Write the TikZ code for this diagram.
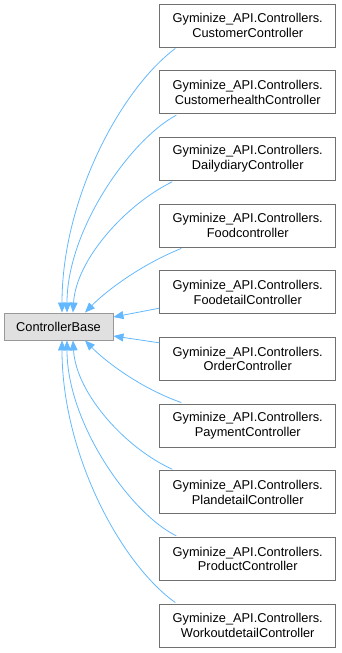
\documentclass[tikz,border=0pt]{standalone}
\usepackage{fontspec}
\setmainfont{Liberation Sans}
\usetikzlibrary{arrows.meta,calc}
\definecolor{edgeblue}{RGB}{99,184,255}
\definecolor{boxline}{RGB}{112,112,112}
\definecolor{baseline}{RGB}{153,153,153}
\definecolor{basefill}{RGB}{224,224,224}
\tikzset{
  cls/.style={draw=boxline, fill=white, line width=0.9pt, minimum width=176pt, minimum height=43pt,
    inner sep=0pt, align=center, font=\fontsize{12.8}{14.5}\selectfont},
  basecls/.style={draw=baseline, fill=basefill, line width=0.9pt, minimum width=109pt, minimum height=27pt,
    inner sep=0pt, font=\fontsize{12.8}{14.5}\selectfont},
  inherit/.style={draw=edgeblue, line width=0.8pt, -{Triangle[length=10pt,width=8pt]}}
}
\begin{document}
\begin{tikzpicture}[x=1pt,y=-1pt]
\useasboundingbox (0,0) rectangle (342,653);

\node[basecls] (base) at (58.5,326.5) {ControllerBase};

\node[cls] (c1)  at (247.75,25.5)  {Gyminize\_API.Controllers.\\CustomerController};
\node[cls] (c2)  at (247.75,92.2)  {Gyminize\_API.Controllers.\\CustomerhealthController};
\node[cls] (c3)  at (247.75,158.8) {Gyminize\_API.Controllers.\\DailydiaryController};
\node[cls] (c4)  at (247.75,225.5) {Gyminize\_API.Controllers.\\Foodcontroller};
\node[cls] (c5)  at (247.75,292.2) {Gyminize\_API.Controllers.\\FoodetailController};
\node[cls] (c6)  at (247.75,358.8) {Gyminize\_API.Controllers.\\OrderController};
\node[cls] (c7)  at (247.75,425.5) {Gyminize\_API.Controllers.\\PaymentController};
\node[cls] (c8)  at (247.75,492.2) {Gyminize\_API.Controllers.\\PlandetailController};
\node[cls] (c9)  at (247.75,558.8) {Gyminize\_API.Controllers.\\ProductController};
\node[cls] (c10) at (247.75,625.5) {Gyminize\_API.Controllers.\\WorkoutdetailController};

% upper half: edges arrive on the top side of the base class
\draw[inherit] ($(c1.south west)+(16,1)$) .. controls (120,90) and (62,200) .. ($(base.north)+(3.5,0)$);
\draw[inherit] ($(c2.south west)+(17,1)$) .. controls (130,140) and (67,230) .. ($(base.north)+(8.5,0)$);
\draw[inherit] ($(c3.south west)+(13,1)$) .. controls (125,205) and (76,260) .. ($(base.north)+(14.5,0)$);
\draw[inherit] ($(c4.south west)+(22,1)$) .. controls (140,265) and (105,292) .. ($(base.north)+(26.5,0)$);
\draw[inherit] ($(c5.west)+(0,16)$) -- ($(base.east)+(0,-9.5)$);

% lower half: mirror image of the upper half
\draw[inherit] ($(c6.west)+(0,-16)$) -- ($(base.east)+(0,9.5)$);
\draw[inherit] ($(c7.north west)+(22,-1)$) .. controls (140,388) and (105,361) .. ($(base.south)+(26.5,0)$);
\draw[inherit] ($(c8.north west)+(13,-1)$) .. controls (125,448) and (76,393) .. ($(base.south)+(14.5,0)$);
\draw[inherit] ($(c9.north west)+(17,-1)$) .. controls (130,513) and (67,423) .. ($(base.south)+(8.5,0)$);
\draw[inherit] ($(c10.north west)+(16,-1)$) .. controls (120,563) and (62,453) .. ($(base.south)+(3.5,0)$);
\end{tikzpicture}
\end{document}
